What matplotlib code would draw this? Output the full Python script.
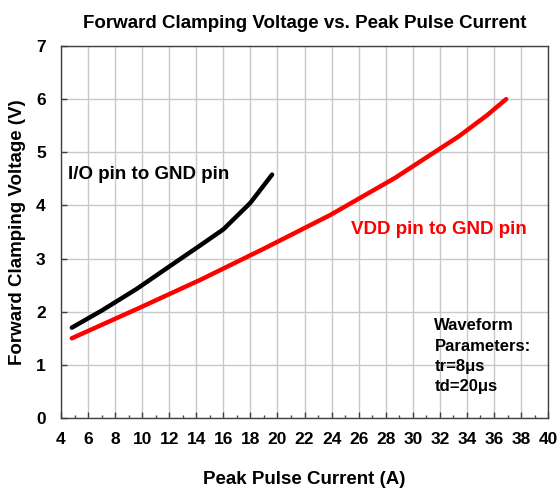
import matplotlib.pyplot as plt
import numpy as np

plt.rcParams['font.family'] = ['Liberation Sans Narrow', 'Liberation Sans', 'DejaVu Sans']
plt.rcParams['font.weight'] = 'bold'

# I/O pin to GND pin
io_current = [4.8, 7.0, 9.6, 12.0, 14.3, 16.0, 18.0, 19.6]
io_voltage = [1.70, 2.02, 2.43, 2.85, 3.25, 3.55, 4.05, 4.58]

# VDD pin to GND pin
vdd_current = [4.8, 9.6, 14.3, 19.1, 23.9, 28.7, 33.4, 35.5, 36.9]
vdd_voltage = [1.50, 2.05, 2.60, 3.20, 3.82, 4.52, 5.30, 5.70, 6.00]

arial = ['Liberation Sans', 'DejaVu Sans']

fig = plt.figure(figsize=(5.58, 4.94), dpi=100)
ax = fig.add_axes([0.1093, 0.1538, 0.873, 0.7531])

ax.plot(io_current, io_voltage, color='black', linewidth=3.2, solid_capstyle='round')
ax.plot(vdd_current, vdd_voltage, color='#ff0000', linewidth=3.2, solid_capstyle='round')

ax.set_xlim(4, 40)
ax.set_ylim(0, 7)
ax.set_xticks(np.arange(4, 41, 2))
ax.set_xticks(np.arange(5, 40, 2), minor=True)
ax.set_yticks(np.arange(0, 8, 1))
ax.grid(True, which='major', color='#c8c8c8', linewidth=1)
ax.set_axisbelow(True)
ax.tick_params(which='major', direction='in', length=4, width=1, labelsize=12.5, colors='#404040', labelcolor='black')
ax.tick_params(which='minor', direction='in', length=2, width=1, colors='#404040')
ax.tick_params(axis='x', pad=10)
ax.tick_params(axis='y', pad=11)
for s in ax.spines.values():
    s.set_color('#404040')
    s.set_linewidth(1)
for lab in ax.get_xticklabels() + ax.get_yticklabels():
    lab.set_fontweight('bold')

ax.set_title('Forward Clamping Voltage vs. Peak Pulse Current', fontsize=13.5, fontweight='bold',
             family=arial, pad=13)
ax.set_xlabel('Peak Pulse Current (A)', fontsize=13.5, fontweight='bold', family=arial, labelpad=17)
ax.set_ylabel('Forward Clamping Voltage (V)', fontsize=13.5, fontweight='bold', family=arial, labelpad=7)

ax.text(4.5, 4.58, 'I/O pin to GND pin', fontsize=13.5, fontweight='bold', va='center', family=arial)
ax.text(25.4, 3.54, 'VDD pin to GND pin', fontsize=13.5, fontweight='bold', va='center',
        color='#ff0000', family=arial)
ax.text(31.6, 1.88, 'Waveform\nParameters:\ntr=8\u03bcs\ntd=20\u03bcs', fontsize=12, fontweight='bold',
        va='top', linespacing=1.45, family=arial)

fig.savefig('out.png', dpi=100)
